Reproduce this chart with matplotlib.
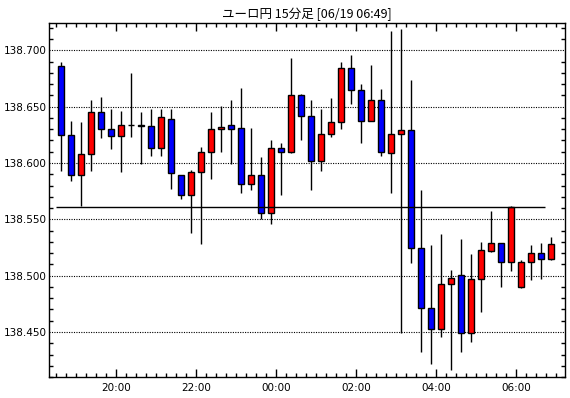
import numpy as np
import matplotlib
matplotlib.use("Agg")
from matplotlib import pyplot as plt
from matplotlib.ticker import MultipleLocator, FixedLocator, FuncFormatter

plt.rcParams['font.family'] = ['Noto Sans CJK JP', 'DejaVu Sans']

# 15 minute bars, first bar starts 18:30
start_hour = 18
start_min = 30
opens = [138.686, 138.625, 138.589, 138.608, 138.645, 138.630, 138.624, 138.634, 138.634, 138.633,
         138.613, 138.639, 138.589, 138.572, 138.592, 138.610, 138.630, 138.634, 138.631, 138.581,
         138.589, 138.556, 138.613, 138.610, 138.660, 138.642, 138.602, 138.626, 138.636, 138.684,
         138.665, 138.637, 138.656, 138.609, 138.626, 138.629, 138.525, 138.471, 138.453, 138.493,
         138.501, 138.449, 138.497, 138.522, 138.529, 138.512, 138.490, 138.512, 138.520, 138.515]
highs = [138.690, 138.637, 138.636, 138.656, 138.659, 138.648, 138.646, 138.680, 138.645, 138.648,
         138.648, 138.648, 138.589, 138.594, 138.614, 138.645, 138.651, 138.656, 138.667, 138.631,
         138.605, 138.620, 138.618, 138.693, 138.661, 138.656, 138.648, 138.658, 138.690, 138.696,
         138.670, 138.687, 138.666, 138.717, 138.719, 138.674, 138.576, 138.527, 138.537, 138.505,
         138.533, 138.519, 138.530, 138.557, 138.529, 138.562, 138.514, 138.527, 138.529, 138.534]
lows = [138.593, 138.584, 138.562, 138.593, 138.622, 138.612, 138.592, 138.623, 138.599, 138.606,
        138.606, 138.577, 138.568, 138.538, 138.528, 138.586, 138.610, 138.599, 138.573, 138.576,
        138.550, 138.546, 138.572, 138.609, 138.620, 138.576, 138.593, 138.623, 138.630, 138.652,
        138.618, 138.637, 138.606, 138.573, 138.449, 138.511, 138.432, 138.422, 138.446, 138.416,
        138.432, 138.441, 138.468, 138.521, 138.490, 138.504, 138.489, 138.496, 138.497, 138.514]
closes = [138.625, 138.589, 138.608, 138.645, 138.630, 138.624, 138.634, 138.634, 138.633, 138.613,
          138.641, 138.591, 138.572, 138.592, 138.610, 138.630, 138.632, 138.630, 138.581, 138.589,
          138.556, 138.613, 138.610, 138.660, 138.642, 138.602, 138.626, 138.636, 138.684, 138.665,
          138.637, 138.656, 138.610, 138.626, 138.629, 138.525, 138.471, 138.453, 138.493, 138.498,
          138.449, 138.497, 138.523, 138.529, 138.512, 138.561, 138.512, 138.520, 138.515, 138.528]
ref_price = 138.561
title = "ユーロ円 15分足 [06/19 06:49]"
xtick_labels = ["20:00", "22:00", "00:00", "02:00", "04:00", "06:00"]

n = len(opens)
idx = np.arange(n)
times = []
for i in range(n):
    m = start_hour * 60 + start_min + 15 * i
    times.append("%02d:%02d" % ((m // 60) % 24, m % 60))

o = np.array(opens)
c = np.array(closes)
# red = up bar, blue = down bar
colors = ['#ff0000' if c[i] > o[i] else '#0000ff' for i in range(n)]

fig = plt.figure(figsize=(5.7, 3.98), dpi=100)
ax = fig.add_axes([0.0865, 0.052, 0.904, 0.890])

ax.vlines(idx, lows, highs, color='black', linewidth=1.0, zorder=2)
ax.bar(idx, np.abs(c - o), bottom=np.minimum(o, c), width=0.62,
       color=colors, edgecolor='black', linewidth=1.0, zorder=3)

ax.hlines(ref_price, -0.5, 48.4, color='black', linewidth=1.0, zorder=4)

ax.set_xlim(-1.14, 50.38)
ax.set_ylim(138.4098, 138.7242)

# y axis
yt = [138.45, 138.50, 138.55, 138.60, 138.65, 138.70]
ax.yaxis.set_major_locator(FixedLocator(yt))
ax.yaxis.set_minor_locator(MultipleLocator(0.01))
ax.yaxis.set_major_formatter(FuncFormatter(lambda v, p: "%.3f" % v))
for y in yt:
    ax.axhline(y, color='black', linestyle=(0, (1, 1.2)), linewidth=0.8, zorder=1)

# x axis: ticks on bar boundaries
tick_pos = [times.index(t) - 0.5 for t in xtick_labels]
ax.xaxis.set_major_locator(FixedLocator(tick_pos))
ax.set_xticklabels(xtick_labels)
ax.xaxis.set_minor_locator(FixedLocator(np.arange(n + 1) - 0.5))

ax.tick_params(axis='both', which='both', direction='in', top=True, right=True,
               color='black', width=1.0, labelsize=7.5, labelcolor='black')
ax.tick_params(axis='x', which='major', length=6, pad=4)
ax.tick_params(axis='x', which='minor', length=3)
ax.tick_params(axis='y', which='major', length=0, pad=2)
ax.tick_params(axis='y', which='minor', length=3)
for lab in ax.get_xticklabels() + ax.get_yticklabels():
    lab.set_family('DejaVu Sans')

for s in ax.spines.values():
    s.set_linewidth(1.0)
    s.set_color('black')

fig.text(0.539, 0.963, title, ha='center', va='center', fontsize=9, color='black')

fig.savefig("out.png", dpi=100)
